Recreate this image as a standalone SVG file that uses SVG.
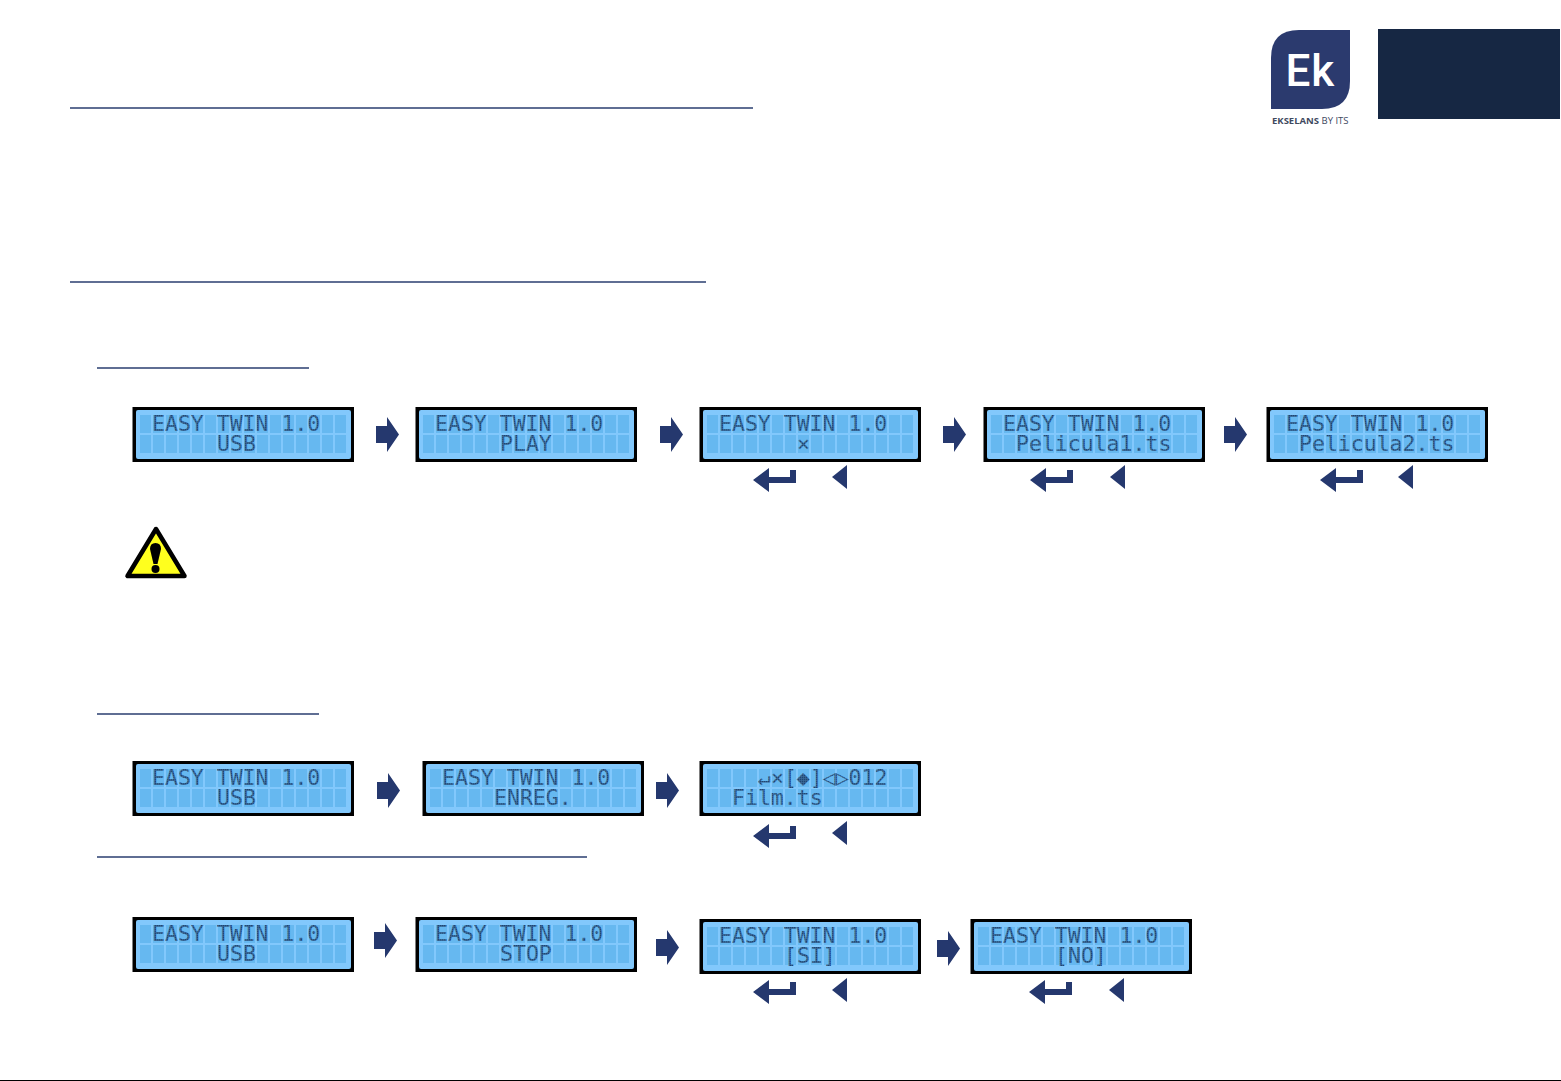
<svg xmlns="http://www.w3.org/2000/svg" width="1561" height="1081" viewBox="0 0 1561 1081">
<style>
.rule{stroke:#2b3f70;stroke-width:1.3;fill:none}
.lcd{font-family:"DejaVu Sans Mono","Liberation Mono",monospace;font-size:21.5px;fill:url(#ink);white-space:pre}
.nav{fill:#25386e}
</style>
<defs>
<pattern id="ink" patternUnits="userSpaceOnUse" width="2" height="2">
<rect width="2" height="2" fill="#3f6f9f"/>
<rect width="1.400" height="1.400" fill="#1f4672"/>
</pattern>
<pattern id="cells" patternUnits="userSpaceOnUse" x="7" y="8" width="13" height="20">
<rect width="11" height="18" fill="#6FBEF4"/>
<path d="M0 1H11M0 3H11M0 5H11M0 7H11M0 9H11M0 11H11M0 13H11M0 15H11M0 17H11" stroke="#5CB2EC" stroke-width="1"/>
</pattern>
<g id="screen">
<rect x="-0.500" y="0" width="221.500" height="55" fill="#000"/>
<rect x="3" y="3" width="215" height="49" rx="2" fill="#82C8FC"/>
<rect x="7" y="8" width="208" height="38" fill="url(#cells)"/>
</g>
<path id="next" class="nav" d="M0 9H11V0L23 17.500L11 35V26H0Z"/>
<path id="enter" class="nav" d="M0 12L16 0V9H37V2H43V15H16V24Z"/>
<path id="back" class="nav" d="M0 12L15 0V24Z"/>
</defs>

<g id="page-rules">
<path class="rule" d="M70 108H753M70 282H706M97 368H309M97 714H319M97 857H587"/>
<rect x="0" y="1080" width="1561" height="1" fill="#000"/>
</g>

<g id="logo">
<path d="M1271 109V58Q1271 30 1299 30H1350V81Q1350 109 1322 109Z" fill="#2b3a6e"/>
<text x="1285.500" y="86" font-family="Roboto,Liberation Sans,sans-serif" font-size="44" font-weight="500" letter-spacing="1" fill="#fff">Ek</text>
<text x="1272" y="124" font-family="Open Sans,Liberation Sans,sans-serif" font-size="9.500" font-weight="700" fill="#3f4a5f">EKSELANS <tspan font-weight="400">BY ITS</tspan></text>
</g>
<rect id="corner-tab" x="1378" y="29" width="182" height="90" fill="#162743"/>

<g id="warning">
<path d="M156 529L127.500 576H184.500Z" fill="#FFFF1E" stroke="#000" stroke-width="4.500" stroke-linejoin="round"/>
<path d="M150 549Q150 543 155.500 543Q161 543 161 549L157.500 564H153.500Z" fill="#000"/>
<circle cx="155.500" cy="569" r="4" fill="#000"/>
</g>

<g id="s1-usb" transform="translate(133 407)"><use href="#screen"/><text class="lcd"><tspan x="19" y="24">EASY TWIN 1.0</tspan><tspan x="84" y="44">USB</tspan></text></g>
<g id="s1-play" transform="translate(416 407)"><use href="#screen"/><text class="lcd"><tspan x="19" y="24">EASY TWIN 1.0</tspan><tspan x="84" y="44">PLAY</tspan></text></g>
<g id="s1-x" transform="translate(700 407)"><use href="#screen"/><text class="lcd"><tspan x="19" y="24">EASY TWIN 1.0</tspan><tspan x="97" y="44">×</tspan></text></g>
<g id="s1-film1" transform="translate(984 407)"><use href="#screen"/><text class="lcd"><tspan x="19" y="24">EASY TWIN 1.0</tspan><tspan x="32" y="44">Pelicula1.ts</tspan></text></g>
<g id="s1-film2" transform="translate(1267 407)"><use href="#screen"/><text class="lcd"><tspan x="19" y="24">EASY TWIN 1.0</tspan><tspan x="32" y="44">Pelicula2.ts</tspan></text></g>

<g id="s2-usb" transform="translate(133 761)"><use href="#screen"/><text class="lcd"><tspan x="19" y="24">EASY TWIN 1.0</tspan><tspan x="84" y="44">USB</tspan></text></g>
<g id="s2-enreg" transform="translate(423 761)"><use href="#screen"/><text class="lcd"><tspan x="19" y="24">EASY TWIN 1.0</tspan><tspan x="71" y="44">ENREG.</tspan></text></g>
<g id="s2-film" transform="translate(700 761)"><use href="#screen"/><text class="lcd"><tspan x="58" y="24">↵×[◆]◁▷012</tspan><tspan x="32" y="44">Film.ts</tspan></text></g>

<g id="s3-usb" transform="translate(133 917)"><use href="#screen"/><text class="lcd"><tspan x="19" y="24">EASY TWIN 1.0</tspan><tspan x="84" y="44">USB</tspan></text></g>
<g id="s3-stop" transform="translate(416 917)"><use href="#screen"/><text class="lcd"><tspan x="19" y="24">EASY TWIN 1.0</tspan><tspan x="84" y="44">STOP</tspan></text></g>
<g id="s3-si" transform="translate(700 919)"><use href="#screen"/><text class="lcd"><tspan x="19" y="24">EASY TWIN 1.0</tspan><tspan x="84" y="44">[SI]</tspan></text></g>
<g id="s3-no" transform="translate(971 919)"><use href="#screen"/><text class="lcd"><tspan x="19" y="24">EASY TWIN 1.0</tspan><tspan x="84" y="44">[NO]</tspan></text></g>

<g id="connectors">
<use href="#next" x="376" y="417"/><use href="#next" x="660" y="417"/><use href="#next" x="943" y="417"/><use href="#next" x="1224" y="417"/>
<use href="#next" x="377" y="773"/><use href="#next" x="656" y="773"/>
<use href="#next" x="374" y="923"/><use href="#next" x="656" y="930"/><use href="#next" x="937" y="931"/>
<use href="#enter" x="753" y="468"/><use href="#back" x="832" y="465"/>
<use href="#enter" x="1030" y="468"/><use href="#back" x="1110" y="465"/>
<use href="#enter" x="1320" y="468"/><use href="#back" x="1398" y="465"/>
<use href="#enter" x="753" y="824"/><use href="#back" x="832" y="821"/>
<use href="#enter" x="753" y="980"/><use href="#back" x="832" y="978"/>
<use href="#enter" x="1029" y="980"/><use href="#back" x="1109" y="978"/>
</g>
</svg>
